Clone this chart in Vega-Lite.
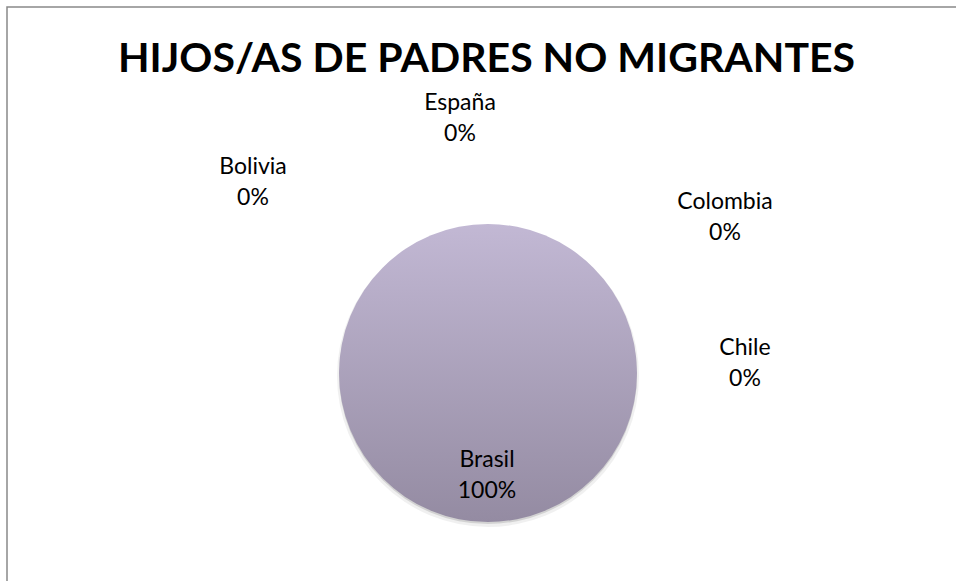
{
  "$schema": "https://vega.github.io/schema/vega-lite/v6.json",
  "width": 949,
  "height": 574,
  "autosize": {"type": "none"},
  "padding": {"left": 7, "top": 7, "right": 0, "bottom": 0},
  "background": "white",
  "view": {"stroke": "#898989", "strokeWidth": 1.5, "fill": "white", "strokeDash": [949, 1523, 574]},
  "data": {
    "values": [
      {"pais": "Bolivia", "porcentaje": 0},
      {"pais": "España", "porcentaje": 0},
      {"pais": "Colombia", "porcentaje": 0},
      {"pais": "Chile", "porcentaje": 0},
      {"pais": "Brasil", "porcentaje": 1}
    ]
  },
  "transform": [
    {"calculate": "datum.pais + '\\n' + format(datum.porcentaje, '.0%')", "as": "etiqueta"}
  ],
  "title": {
    "text": "HIJOS/AS DE PADRES NO MIGRANTES",
    "font": "Lato",
    "fontSize": 41,
    "fontWeight": "bold",
    "color": "#000000",
    "anchor": "middle",
    "baseline": "alphabetic",
    "offset": 0,
    "dx": 5,
    "dy": 106
  },
  "layer": [
    {
      "mark": {"type": "arc", "x": 481, "y": 369, "radius": 151, "color": "#000000", "opacity": 0.06},
      "encoding": {"theta": {"field": "porcentaje", "type": "quantitative", "stack": true}}
    },
    {
      "mark": {"type": "arc", "x": 481, "y": 368, "radius": 149, "color": "#000000", "opacity": 0.12},
      "encoding": {"theta": {"field": "porcentaje", "type": "quantitative", "stack": true}}
    },
    {
      "mark": {
        "type": "arc",
        "x": 481,
        "y": 366,
        "radius": 149,
        "color": {
          "gradient": "linear",
          "x1": 0, "y1": 0, "x2": 0, "y2": 1,
          "stops": [
            {"offset": 0, "color": "#C2B8D4"},
            {"offset": 1, "color": "#948BA2"}
          ]
        }
      },
      "encoding": {
        "theta": {"field": "porcentaje", "type": "quantitative", "stack": true},
        "tooltip": [
          {"field": "pais", "type": "nominal", "title": "País"},
          {"field": "porcentaje", "type": "quantitative", "format": ".0%", "title": "Porcentaje"}
        ]
      }
    },
    {
      "transform": [{"filter": "datum.pais === 'España'"}],
      "mark": {"type": "text", "x": 453, "y": 96, "lineBreak": "\n", "lineHeight": 31, "baseline": "middle", "font": "Lato", "fontSize": 23, "color": "#000000"},
      "encoding": {"text": {"field": "etiqueta"}}
    },
    {
      "transform": [{"filter": "datum.pais === 'Bolivia'"}],
      "mark": {"type": "text", "x": 246, "y": 160, "lineBreak": "\n", "lineHeight": 31, "baseline": "middle", "font": "Lato", "fontSize": 23, "color": "#000000"},
      "encoding": {"text": {"field": "etiqueta"}}
    },
    {
      "transform": [{"filter": "datum.pais === 'Colombia'"}],
      "mark": {"type": "text", "x": 718, "y": 195, "lineBreak": "\n", "lineHeight": 31, "baseline": "middle", "font": "Lato", "fontSize": 23, "color": "#000000"},
      "encoding": {"text": {"field": "etiqueta"}}
    },
    {
      "transform": [{"filter": "datum.pais === 'Chile'"}],
      "mark": {"type": "text", "x": 738, "y": 341, "lineBreak": "\n", "lineHeight": 31, "baseline": "middle", "font": "Lato", "fontSize": 23, "color": "#000000"},
      "encoding": {"text": {"field": "etiqueta"}}
    },
    {
      "transform": [{"filter": "datum.pais === 'Brasil'"}],
      "mark": {"type": "text", "x": 480, "y": 453, "lineBreak": "\n", "lineHeight": 31, "baseline": "middle", "font": "Lato", "fontSize": 23, "color": "#000000"},
      "encoding": {"text": {"field": "etiqueta"}}
    }
  ]
}
